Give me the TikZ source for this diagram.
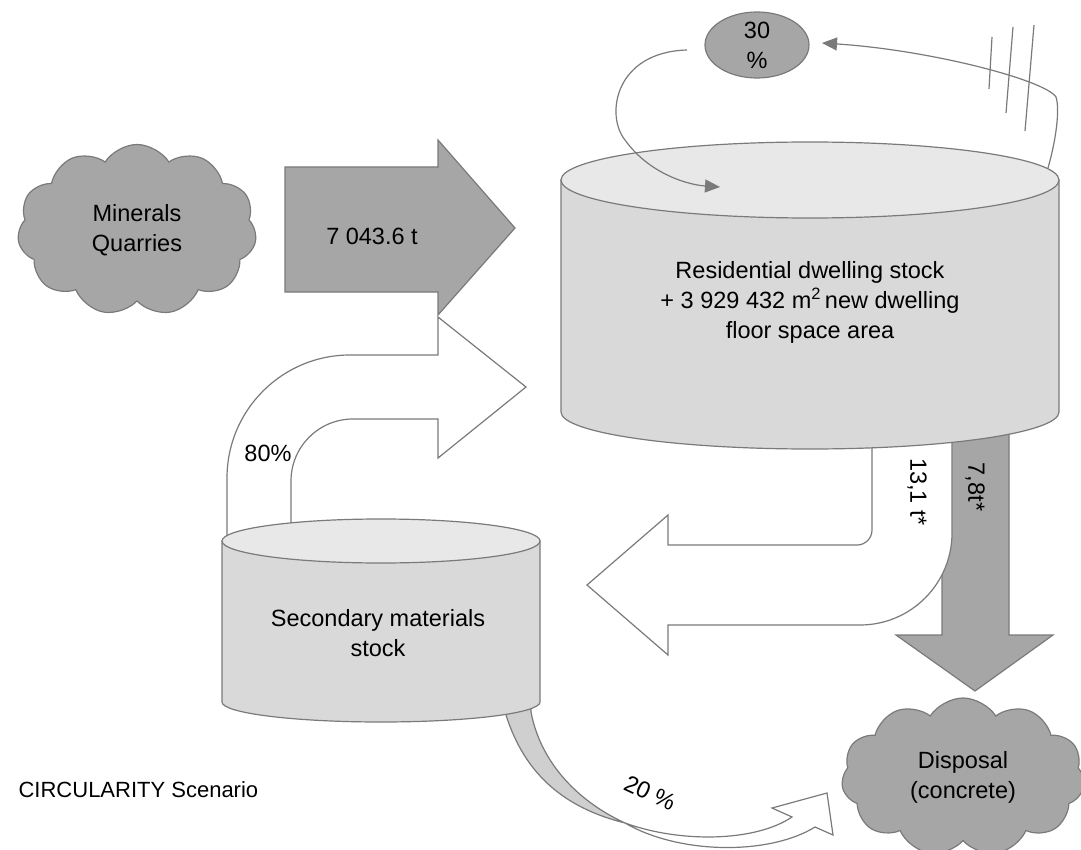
\documentclass[tikz,border=0pt]{standalone}
\usepackage{fontspec}
\setmainfont{Liberation Sans}
\usetikzlibrary{shapes.symbols,shapes.geometric,arrows.meta}
\definecolor{grayfill}{HTML}{A6A6A6}
\definecolor{edge}{HTML}{7A7A7A}
\definecolor{cylbody}{HTML}{D9D9D9}
\definecolor{cyltop}{HTML}{E8E8E8}
\definecolor{bandfill}{HTML}{CFCFCF}
\begin{document}
\begin{tikzpicture}[x=1pt,y=-1pt,line width=1.2pt,
  blockshape/.style={draw=edge,line join=miter},
  lbl/.style={font=\fontsize{23.5}{30}\selectfont,align=center,inner sep=0pt},
  cloudnode/.style={cloud,cloud puffs=11,cloud puff arc=115,cloud ignores aspect,draw=edge,fill=grayfill,inner sep=0pt,align=center,font=\fontsize{23.5}{30}\selectfont},
  looparrow/.style={draw=edge,line width=1.2pt,-{Triangle[length=15pt,width=13pt]}}]
\useasboundingbox (0,0) rectangle (1081,850);

% white bent arrow (80%)
\path[blockshape,fill=white] (227,541) -- (227,478) arc[start angle=180,end angle=270,radius=123]
  -- (438,355) -- (438,317) -- (526,387) -- (438,458) -- (438,419) -- (353,419)
  arc[start angle=270,end angle=180,radius=62] -- (291,541) -- cycle;

% grey inflow arrow
\path[blockshape,fill=grayfill] (285,167) -- (438,167) -- (438,140) -- (515,228) -- (438,315) -- (438,292) -- (285,292) -- cycle;

% grey down arrow 7,8 t*
\path[blockshape,fill=grayfill] (942,412) -- (942,635) -- (896,635) -- (975,691) -- (1053,635) -- (1009,635) -- (1009,412) -- cycle;

% white bent arrow 13,1 t*
\path[blockshape,fill=white] (952,412) -- (952,533) arc[start angle=0,end angle=90,radius=92]
  -- (668,625) -- (668,655) -- (587,585) -- (668,515) -- (668,545) -- (857,545)
  arc[start angle=90,end angle=0,radius=15] -- (872,412) -- cycle;

% residential cylinder
\path[draw=edge,fill=cylbody] (561,180) -- (561,412) arc[start angle=180,end angle=0,x radius=249,y radius=37] -- (1059,180) -- cycle;
\path[draw=edge,fill=cyltop] (810,180) ellipse [x radius=249,y radius=38];

% curved 20% arrow
\path[blockshape,fill=white] (625,823) .. controls (680,843) and (755,842) .. (792,817)
  -- (772,808) -- (827,793) -- (833,835) -- (815,827)
  .. controls (770,855) and (680,855) .. (625,823) -- cycle;
\path[blockshape,fill=bandfill] (506,700) -- (506,715) .. controls (525,775) and (565,808) .. (625,823)
  .. controls (575,800) and (540,760) .. (531,712) -- (531,700) -- cycle;

% secondary cylinder
\path[draw=edge,fill=cylbody] (222,541) -- (222,702) arc[start angle=180,end angle=0,x radius=159,y radius=20] -- (540,541) -- cycle;
\path[draw=edge,fill=cyltop] (381,541) ellipse [x radius=159,y radius=22];

% clouds
\node[cloudnode,minimum width=239pt,minimum height=171pt] (quarry) at (137,230) {Minerals\\Quarries};
\node[cloudnode,minimum width=243pt,minimum height=158pt] (disposal) at (963,777) {Disposal\\(concrete)};

% 30 % ellipse
\node[ellipse,draw=edge,fill=grayfill,minimum width=104pt,minimum height=66pt,inner sep=0pt,align=center,font=\fontsize{23.5}{30}\selectfont] (pct30) at (757,45) {30\\\%};

% loop arrows
\coordinate (loopA) at (687,50);
\coordinate (loopB) at (720,187);
\coordinate (loopC) at (1048,168);
\coordinate (loopD) at (822,43);
\draw[looparrow] (loopA) .. controls (615,52) and (605,115) .. (625,140) .. controls (650,175) and (690,185) .. (loopB);
\draw[looparrow] (loopC) .. controls (1056,140) and (1060,110) .. (1056,97) .. controls (1045,80) and (930,50) .. (loopD);
\draw[draw=edge] (992,37) -- (989,89);
\draw[draw=edge] (1013,27) -- (1006,113);
\draw[draw=edge] (1034,25) -- (1025,131);

% labels
\node[lbl] (restext) at (810,302) {Residential dwelling stock\\+ 3 929 432 m\textsuperscript{2}\,new dwelling\\floor space area};
\node[lbl] (sectext) at (378,633) {Secondary materials\\stock};
\node[lbl] (flowtext) at (372,236) {7 043.6 t};
\node[lbl] (pct80) at (268,453) {80\%};
\node[lbl,rotate=-90] (t131) at (917,492) {13,1 t*};
\node[lbl,rotate=-90] (t78) at (975,487) {7,8t*};
\node[lbl,rotate=-25] (pct20) at (650,793) {20 \%};
\node[lbl,anchor=west,font=\fontsize{22}{26}\selectfont] (scen) at (18,790) {CIRCULARITY Scenario};
\end{tikzpicture}
\end{document}
